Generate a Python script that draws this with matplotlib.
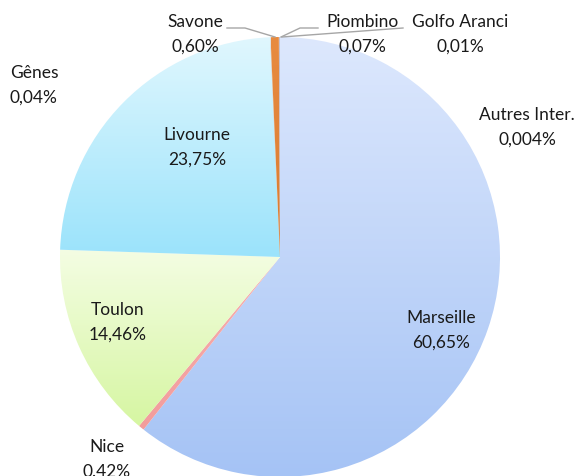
import numpy as np
import matplotlib
matplotlib.use("Agg")
import matplotlib.pyplot as plt
from matplotlib.colors import LinearSegmentedColormap

labels = ["Marseille", "Nice", "Toulon", "Livourne", "Gênes", "Savone",
          "Piombino", "Golfo Aranci", "Autres Inter."]
values = [60.65, 0.42, 14.46, 23.75, 0.04, 0.60, 0.07, 0.01, 0.004]
pct_text = ["60,65%", "0.42%", "14,46%", "23,75%", "0,04%", "0,60%",
            "0,07%", "0,01%", "0,004%"]
grad_top = ["#dde8fd", "#f7b0b0", "#f4fde3", "#e0f7fe", "#cccccc", "#e88b40",
            "#b8b4c8", "#cccccc", "#cccccc"]
grad_bot = ["#a5c3f5", "#f29c9c", "#d6f6a2", "#9be3fb", "#aaaaaa", "#d97b30",
            "#a8a4b8", "#aaaaaa", "#aaaaaa"]

W, H = 580, 477
fig = plt.figure(figsize=(W / 100, H / 100), dpi=100)
ax = fig.add_axes([0, 0, 1, 1])
plt.rcParams['font.family'] = ['Lato', 'DejaVu Sans']

cx, cy, R = 280, H - 258, 220
wedges, _ = ax.pie(values, startangle=90, counterclock=False,
                   center=(cx, cy), radius=R,
                   wedgeprops=dict(linewidth=0))
ax.set_xlim(0, W)
ax.set_ylim(0, H)
ax.set_aspect('equal')
ax.set_axis_off()

for w, c1, c2 in zip(wedges, grad_top, grad_bot):
    w.set_facecolor("none")
    ext = w.get_path().get_extents(w.get_transform() + ax.transData.inverted())
    cmap = LinearSegmentedColormap.from_list("g", [c2, c1])
    grad = np.linspace(0, 1, 256).reshape(-1, 1)
    im = ax.imshow(grad, cmap=cmap, origin="lower", aspect="auto",
                   extent=[ext.x0, ext.x1, ext.y0, ext.y1], zorder=1,
                   interpolation="bilinear")
    im.set_clip_path(w)
ax.set_xlim(0, W)
ax.set_ylim(0, H)

fs = 12.5
def lab(x, y, name, pct, ha="center"):
    ax.text(x, H - y, name, ha=ha, va="center", fontsize=fs, color="#1a1a1a", zorder=5)
    ax.text(x, H - y - 25, pct, ha=ha, va="center", fontsize=fs, color="#1a1a1a", zorder=5)

pos = {
    "Marseille": (441, 318, "center"),
    "Nice": (107, 447, "center"),
    "Toulon": (118, 310, "center"),
    "Livourne": (197, 135, "center"),
    "Gênes": (10, 73, "left"),
    "Savone": (195, 22, "center"),
    "Piombino": (362, 22, "center"),
    "Golfo Aranci": (460, 22, "center"),
    "Autres Inter.": (527, 115, "center"),
}
for name, p in zip(labels, pct_text):
    x, y, ha = pos[name]
    lab(x, y, name, p, ha)

lc = "#a6a6a6"
ax.plot([227, 245, 275], [H - 29, H - 29, H - 38], color=lc, lw=1, zorder=4)
ax.plot([318, 300, 281], [H - 29, H - 29, H - 38], color=lc, lw=1, zorder=4)
ax.plot([403, 282], [H - 29, H - 38], color=lc, lw=1, zorder=3)

fig.savefig("out.png", dpi=100)
